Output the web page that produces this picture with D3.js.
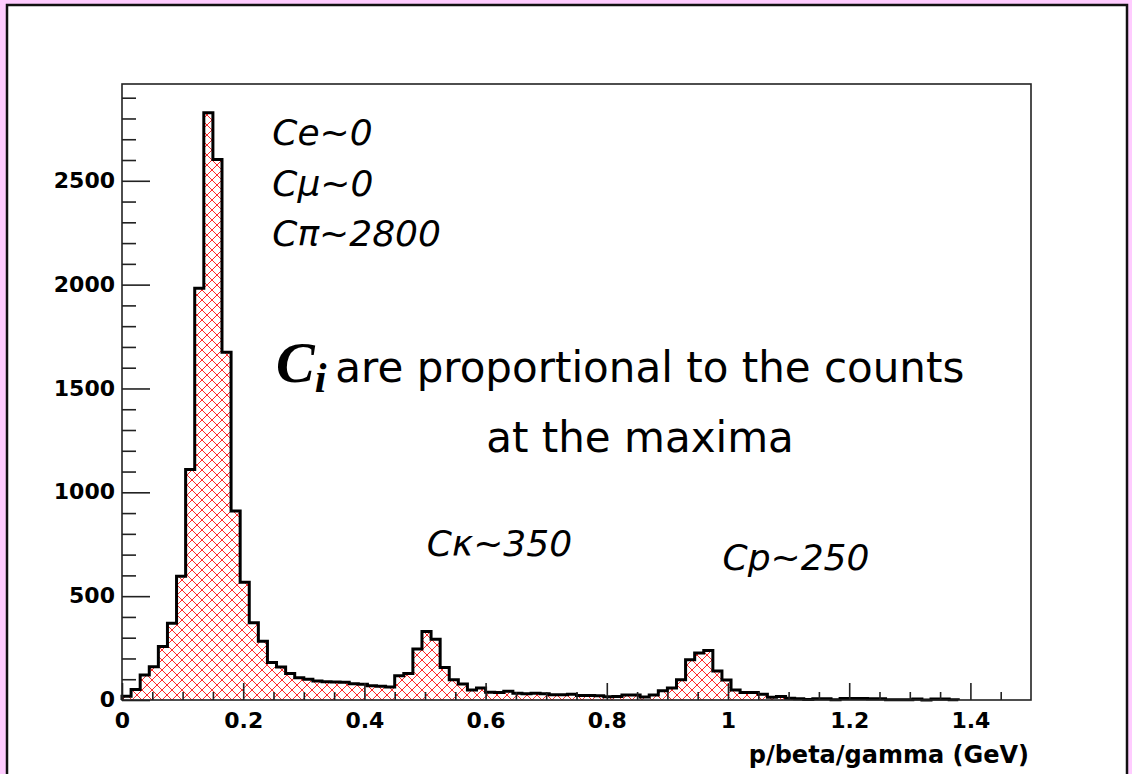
<!DOCTYPE html>
<html>
<head>
<meta charset="utf-8">
<script src="https://cdn.jsdelivr.net/npm/d3@7"></script>
<style>
  html, body { margin: 0; padding: 0; background: #ffccff; }
  svg { display: block; }
</style>
</head>
<body>
<svg id="chart" width="1132" height="774"></svg>
<script>
// Histogram of p/(beta*gamma): 100 bins between 0 and 1.5 GeV
const xRange = [0, 1.5];
const binWidth = 0.015;
const counts = [
  18, 50, 120, 160, 258, 370, 596, 1110, 1982, 2827,
  2603, 1674, 910, 567, 372, 283, 180, 159, 128, 107,
  100, 92, 88, 87, 86, 78, 76, 69, 66, 63,
  117, 128, 245, 330, 293, 157, 98, 77, 48, 58,
  37, 36, 42, 32, 30, 33, 30, 25, 25, 28,
  22, 22, 20, 16, 17, 24, 24, 14, 24, 44,
  58, 97, 194, 226, 238, 140, 96, 48, 36, 36,
  28, 13, 17, 9, 6, 2, 6, 6, 1, 7,
  7, 7, 6, 6, 1, 1, 1, 5, 0, 5,
  5, 1, 0, 0, 0, 0, 0, 0, 0, 0
];
const yMax = 2966;

const xMajorTicks = [0, 0.2, 0.4, 0.6, 0.8, 1.0, 1.2, 1.4];
const xTickLabels = ["0", "0.2", "0.4", "0.6", "0.8", "1", "1.2", "1.4"];
const xMinorTicks = [0.05, 0.1, 0.15, 0.25, 0.3, 0.35, 0.45, 0.5, 0.55, 0.65, 0.7, 0.75,
                     0.85, 0.9, 0.95, 1.05, 1.1, 1.15, 1.25, 1.3, 1.35, 1.45];
const yMajorTicks = [0, 500, 1000, 1500, 2000, 2500];
const yTickLabels = ["0", "500", "1000", "1500", "2000", "2500"];
const yMinorTicks = [100, 200, 300, 400, 600, 700, 800, 900, 1100, 1200, 1300, 1400,
                     1600, 1700, 1800, 1900, 2100, 2200, 2300, 2400, 2600, 2700, 2800, 2900];
const xTitle = "p/beta/gamma (GeV)";

// Peak annotations: [label, x, y] in data units
const peakNotes = [
  ["Ce~0", 0.248, 2670],
  ["C\u03bc~0", 0.248, 2425],
  ["C\u03c0~2800", 0.248, 2185],
  ["C\u03ba~350", 0.503, 695],
  ["Cp~250", 0.991, 625]
];

const svg = d3.select("#chart");
const W = 1132, H = 774;

const x = d3.scaleLinear().domain(xRange).range([122, 1031]);
const y = d3.scaleLinear().domain([0, yMax]).range([700, 84]);

// page background and framed canvas
svg.append("rect").attr("width", W).attr("height", H).attr("fill", "#ffccff");
svg.append("rect")
  .attr("x", 7).attr("y", 5).attr("width", 1120).attr("height", 800)
  .attr("fill", "#ffffff").attr("stroke", "#111").attr("stroke-width", 2.5);

// red cross hatch
const defs = svg.append("defs");
const pat = defs.append("pattern")
  .attr("id", "hatch").attr("patternUnits", "userSpaceOnUse")
  .attr("x", 122).attr("y", 0)
  .attr("width", 10).attr("height", 10);
pat.append("path").attr("d", "M0,0L10,10M0,10L10,0M-1,1L1,-1M9,11L11,9M-1,9L1,11M9,-1L11,1")
  .attr("stroke", "#ff2a2a").attr("stroke-width", 1).attr("fill", "none");

// step outline points
const bins = counts.map((c, i) => ({ lo: xRange[0] + i * binWidth, hi: xRange[0] + (i + 1) * binWidth, c }));
let last = bins.length - 1;
while (last > 0 && bins[last].c === 0) last--;
const pts = [[0, 0]];
bins.slice(0, last + 1).forEach(b => { pts.push([b.lo, b.c]); pts.push([b.hi, b.c]); });
pts.push([bins[last].hi, 0]);

const line = d3.line().x(d => x(d[0])).y(d => y(d[1]));

svg.append("path").attr("d", line(pts) + "Z")
  .attr("fill", "url(#hatch)").attr("stroke", "none");
svg.append("path").attr("d", line(pts))
  .attr("fill", "none").attr("stroke", "#000").attr("stroke-width", 3)
  .attr("stroke-linejoin", "miter");

// axes
const tickColor = "#222";
const gx = svg.append("g").attr("transform", "translate(0,700)");
gx.append("g").call(d3.axisBottom(x).tickValues(xMinorTicks).tickSize(-8).tickFormat(""));
gx.append("g").call(d3.axisBottom(x).tickValues(xMajorTicks).tickSize(-17)
  .tickFormat((d, i) => xTickLabels[i]));
gx.selectAll(".domain").remove();
gx.selectAll("line").attr("stroke", tickColor).attr("stroke-width", 1.6);
gx.selectAll("text")
  .attr("y", 28).attr("dy", 0)
  .attr("font-family", "DejaVu Sans").attr("font-weight", "bold")
  .attr("font-size", 22).attr("fill", "#000");

const gy = svg.append("g").attr("transform", "translate(122,0)");
gy.append("g").call(d3.axisLeft(y).tickValues(yMinorTicks).tickSize(-14).tickFormat(""));
gy.append("g").call(d3.axisLeft(y).tickValues(yMajorTicks).tickSize(-28)
  .tickFormat((d, i) => yTickLabels[i]));
gy.selectAll(".domain").remove();
gy.selectAll("line").attr("stroke", tickColor).attr("stroke-width", 1.6);
gy.selectAll("text")
  .attr("x", -7).attr("dy", "0.3em")
  .attr("font-family", "DejaVu Sans").attr("font-weight", "bold")
  .attr("font-size", 22).attr("fill", "#000");

// plot frame
svg.append("rect")
  .attr("x", 122).attr("y", 84).attr("width", 1031 - 122).attr("height", 700 - 84)
  .attr("fill", "none").attr("stroke", "#222").attr("stroke-width", 1.6);

// axis title
svg.append("text")
  .attr("x", 1029).attr("y", 763).attr("text-anchor", "end")
  .attr("font-family", "DejaVu Sans").attr("font-weight", "bold")
  .attr("font-size", 24).attr("fill", "#000")
  .text(xTitle);

// peak annotations
svg.append("g").selectAll("text").data(peakNotes).join("text")
  .attr("x", d => x(d[1])).attr("y", d => y(d[2]))
  .attr("font-family", "DejaVu Sans").attr("font-style", "italic")
  .attr("font-size", 36).attr("fill", "#000")
  .text(d => d[0]);

// explanatory note
const note = svg.append("text").attr("x", 276).attr("y", 382).attr("fill", "#000");
note.append("tspan")
  .attr("font-family", "Liberation Serif").attr("font-weight", "bold").attr("font-style", "italic")
  .attr("font-size", 58).text("C");
note.append("tspan")
  .attr("font-family", "Liberation Serif").attr("font-weight", "bold").attr("font-style", "italic")
  .attr("font-size", 42).attr("dy", 10).text("i");
note.append("tspan")
  .attr("font-family", "DejaVu Sans").attr("font-size", 42).attr("dy", -10).attr("dx", 9)
  .text("are proportional to the counts");
svg.append("text").attr("x", 640).attr("y", 452).attr("text-anchor", "middle")
  .attr("font-family", "DejaVu Sans").attr("font-size", 42).attr("fill", "#000")
  .text("at the maxima");
</script>
</body>
</html>
